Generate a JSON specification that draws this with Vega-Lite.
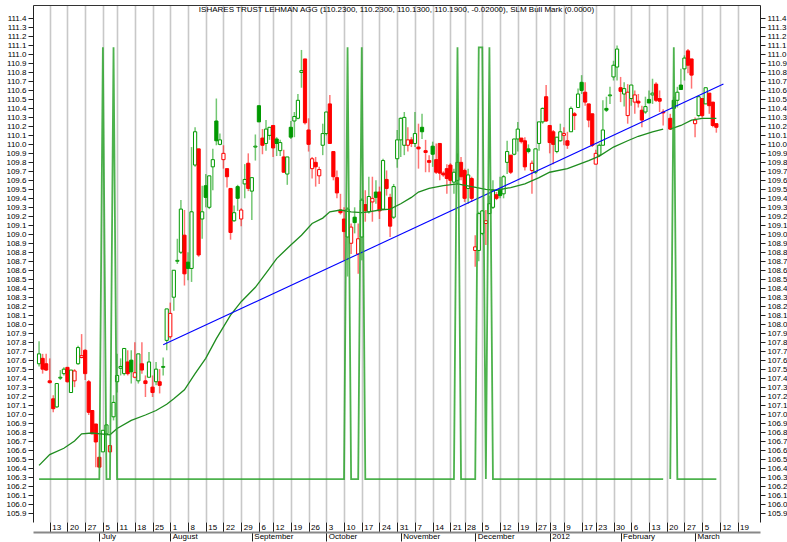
{
"$schema":"https://vega.github.io/schema/vega-lite/v6.json",
"width":727,"height":517,
"autosize":"none",
"padding":{"left":33,"top":5,"right":27,"bottom":20},
"background":"white",
"config":{"view":{"stroke":null},"font":"Liberation Sans","axis":{"labelFont":"Liberation Sans","labelFontSize":8,"labelColor":"#000"}},
"title":{"text":"ISHARES TRUST LEHMAN AGG (110.2300, 110.2300, 110.1300, 110.1900, -0.02000), SLM Bull Mark (0.0000)","font":"Liberation Sans","fontSize":8,"fontWeight":"normal","color":"#000","anchor":"middle","offset":-9},
"datasets":{
"candles":[
{"i":-3,"o":107.56,"h":107.81,"l":107.53,"c":107.67},
{"i":-2,"o":107.62,"h":107.67,"l":107.45,"c":107.50},
{"i":-1,"o":107.56,"h":107.67,"l":107.48,"c":107.49},
{"i":0,"o":107.37,"h":107.62,"l":107.34,"c":107.35},
{"i":1,"o":107.17,"h":107.21,"l":107.02,"c":107.06},
{"i":2,"o":107.08,"h":107.34,"l":107.07,"c":107.34},
{"i":3,"o":107.40,"h":107.49,"l":107.38,"c":107.41},
{"i":4,"o":107.45,"h":107.52,"l":107.43,"c":107.50},
{"i":5,"o":107.52,"h":107.52,"l":107.35,"c":107.36},
{"i":6,"o":107.24,"h":107.49,"l":107.24,"c":107.49},
{"i":7,"o":107.37,"h":107.50,"l":107.30,"c":107.48},
{"i":8,"o":107.56,"h":107.76,"l":107.55,"c":107.74},
{"i":9,"o":107.63,"h":107.89,"l":107.62,"c":107.65},
{"i":10,"o":107.71,"h":107.72,"l":107.38,"c":107.45},
{"i":11,"o":107.36,"h":107.38,"l":106.99,"c":107.02},
{"i":12,"o":107.04,"h":107.04,"l":106.78,"c":106.78},
{"i":13,"o":106.89,"h":106.89,"l":106.41,"c":106.69},
{"i":14,"o":106.52,"h":106.52,"l":106.41,"c":106.41},
{"i":15,"o":106.58,"h":106.82,"l":106.58,"c":106.82},
{"i":16,"o":106.78,"h":106.89,"l":106.76,"c":106.88},
{"i":17,"o":106.58,"h":106.65,"l":106.58,"c":106.65},
{"i":18,"o":106.97,"h":107.21,"l":106.93,"c":107.13},
{"i":19,"o":107.36,"h":107.67,"l":107.24,"c":107.43},
{"i":20,"o":107.51,"h":107.62,"l":107.43,"c":107.53},
{"i":21,"o":107.45,"h":107.73,"l":107.43,"c":107.73},
{"i":22,"o":107.58,"h":107.71,"l":107.43,"c":107.45},
{"i":23,"o":107.60,"h":107.71,"l":107.34,"c":107.47},
{"i":24,"o":107.41,"h":107.80,"l":107.40,"c":107.46},
{"i":25,"o":107.37,"h":107.67,"l":107.34,"c":107.67},
{"i":26,"o":107.56,"h":107.80,"l":107.45,"c":107.49},
{"i":27,"o":107.37,"h":107.43,"l":107.19,"c":107.34},
{"i":28,"o":107.41,"h":107.69,"l":107.41,"c":107.58},
{"i":29,"o":107.30,"h":107.43,"l":107.19,"c":107.24},
{"i":30,"o":107.36,"h":107.58,"l":107.32,"c":107.50},
{"i":31,"o":107.36,"h":107.50,"l":107.23,"c":107.32},
{"i":32,"o":107.52,"h":107.63,"l":107.43,"c":107.53},
{"i":33,"o":107.82,"h":108.17,"l":107.71,"c":108.17},
{"i":34,"o":107.86,"h":108.24,"l":107.84,"c":108.12},
{"i":35,"o":108.30,"h":108.60,"l":108.15,"c":108.60},
{"i":36,"o":108.70,"h":108.95,"l":108.67,"c":108.71},
{"i":37,"o":108.80,"h":109.38,"l":108.78,"c":109.28},
{"i":38,"o":108.99,"h":109.27,"l":108.43,"c":108.56},
{"i":39,"o":108.69,"h":108.80,"l":108.49,"c":108.62},
{"i":40,"o":108.62,"h":109.97,"l":108.47,"c":109.25},
{"i":41,"o":109.77,"h":110.19,"l":109.75,"c":110.14},
{"i":42,"o":109.95,"h":109.95,"l":108.75,"c":108.77},
{"i":43,"o":109.17,"h":109.54,"l":108.95,"c":109.25},
{"i":44,"o":109.54,"h":109.67,"l":109.30,"c":109.41},
{"i":45,"o":109.30,"h":109.65,"l":109.28,"c":109.65},
{"i":46,"o":109.75,"h":109.95,"l":109.49,"c":109.83},
{"i":47,"o":110.26,"h":110.51,"l":109.99,"c":110.04},
{"i":48,"o":110.00,"h":110.12,"l":109.99,"c":110.05},
{"i":49,"o":109.83,"h":109.99,"l":109.73,"c":109.90},
{"i":50,"o":109.73,"h":109.73,"l":109.52,"c":109.64},
{"i":51,"o":109.51,"h":109.51,"l":108.94,"c":109.02},
{"i":52,"o":109.15,"h":109.32,"l":109.14,"c":109.24},
{"i":53,"o":109.53,"h":109.55,"l":109.26,"c":109.40},
{"i":54,"o":109.17,"h":109.29,"l":109.09,"c":109.27},
{"i":55,"o":109.56,"h":109.78,"l":109.40,"c":109.61},
{"i":56,"o":109.79,"h":109.90,"l":109.48,"c":109.51},
{"i":57,"o":109.48,"h":109.63,"l":109.16,"c":109.63},
{"i":58,"o":109.97,"h":110.11,"l":109.82,"c":109.98},
{"i":59,"o":110.43,"h":110.43,"l":110.25,"c":110.25},
{"i":60,"o":110.07,"h":110.17,"l":109.89,"c":109.99},
{"i":61,"o":110.01,"h":110.27,"l":109.93,"c":110.17},
{"i":62,"o":110.10,"h":110.19,"l":110.05,"c":110.19},
{"i":63,"o":110.21,"h":110.21,"l":109.86,"c":109.96},
{"i":64,"o":110.06,"h":110.08,"l":109.87,"c":110.01},
{"i":65,"o":109.93,"h":110.05,"l":109.87,"c":110.02},
{"i":66,"o":109.86,"h":109.94,"l":109.69,"c":109.69},
{"i":67,"o":109.67,"h":109.86,"l":109.55,"c":109.86},
{"i":68,"o":110.19,"h":110.26,"l":110.06,"c":110.08},
{"i":69,"o":110.26,"h":110.36,"l":110.08,"c":110.31},
{"i":70,"o":110.29,"h":110.56,"l":110.28,"c":110.49},
{"i":71,"o":110.80,"h":111.05,"l":110.63,"c":110.82},
{"i":72,"o":110.95,"h":110.95,"l":110.22,"c":110.24},
{"i":73,"o":110.16,"h":110.29,"l":109.92,"c":110.00},
{"i":74,"o":109.73,"h":109.86,"l":109.62,"c":109.84},
{"i":75,"o":109.80,"h":109.86,"l":109.53,"c":109.75},
{"i":76,"o":109.65,"h":109.75,"l":109.56,"c":109.72},
{"i":77,"o":109.99,"h":110.23,"l":109.88,"c":110.12},
{"i":78,"o":110.12,"h":110.36,"l":110.10,"c":110.36},
{"i":79,"o":110.45,"h":110.55,"l":110.01,"c":110.01},
{"i":80,"o":109.92,"h":109.92,"l":109.60,"c":109.64},
{"i":81,"o":109.63,"h":109.71,"l":109.40,"c":109.46},
{"i":82,"o":109.27,"h":109.45,"l":109.22,"c":109.24},
{"i":83,"o":109.17,"h":109.30,"l":108.71,"c":109.03},
{"i":84,"o":108.97,"h":109.30,"l":108.53,"c":109.28},
{"i":85,"o":108.90,"h":109.12,"l":108.78,"c":109.08},
{"i":86,"o":109.19,"h":109.30,"l":109.01,"c":109.13},
{"i":87,"o":108.78,"h":109.12,"l":108.56,"c":108.95},
{"i":88,"o":108.97,"h":109.40,"l":108.71,"c":109.38},
{"i":89,"o":109.33,"h":109.49,"l":109.14,"c":109.26},
{"i":90,"o":109.25,"h":109.64,"l":109.23,"c":109.42},
{"i":91,"o":109.36,"h":109.64,"l":109.14,"c":109.40},
{"i":92,"o":109.47,"h":109.60,"l":109.34,"c":109.41},
{"i":93,"o":109.47,"h":109.53,"l":109.17,"c":109.26},
{"i":94,"o":109.28,"h":109.84,"l":109.27,"c":109.82},
{"i":95,"o":109.61,"h":109.71,"l":109.43,"c":109.51},
{"i":96,"o":109.41,"h":109.45,"l":108.97,"c":109.09},
{"i":97,"o":109.19,"h":109.56,"l":109.17,"c":109.53},
{"i":98,"o":109.84,"h":110.16,"l":109.74,"c":110.05},
{"i":99,"o":110.05,"h":110.30,"l":109.86,"c":110.29},
{"i":100,"o":109.99,"h":110.36,"l":109.88,"c":110.30},
{"i":101,"o":109.99,"h":110.19,"l":109.92,"c":110.05},
{"i":102,"o":110.05,"h":110.08,"l":109.97,"c":110.01},
{"i":103,"o":110.01,"h":110.36,"l":109.97,"c":110.12},
{"i":104,"o":109.97,"h":110.23,"l":109.73,"c":109.95},
{"i":105,"o":110.19,"h":110.34,"l":110.06,"c":110.14},
{"i":106,"o":109.93,"h":110.05,"l":109.69,"c":109.91},
{"i":107,"o":109.82,"h":109.88,"l":109.69,"c":109.80},
{"i":108,"o":109.98,"h":110.03,"l":109.75,"c":109.89},
{"i":109,"o":109.83,"h":110.01,"l":109.67,"c":109.69},
{"i":110,"o":110.01,"h":110.01,"l":109.60,"c":109.68},
{"i":111,"o":109.68,"h":109.70,"l":109.64,"c":109.66},
{"i":112,"o":109.73,"h":109.78,"l":109.45,"c":109.62},
{"i":113,"o":109.77,"h":109.79,"l":109.56,"c":109.60},
{"i":114,"o":109.58,"h":109.73,"l":109.45,"c":109.69},
{"i":115,"o":109.60,"h":109.90,"l":109.56,"c":109.80},
{"i":116,"o":109.80,"h":109.86,"l":109.60,"c":109.64},
{"i":117,"o":109.71,"h":109.73,"l":109.36,"c":109.40},
{"i":118,"o":109.51,"h":109.73,"l":109.34,"c":109.66},
{"i":119,"o":109.62,"h":109.64,"l":109.36,"c":109.40},
{"i":120,"o":108.82,"h":108.99,"l":108.64,"c":108.86},
{"i":121,"o":108.82,"h":109.25,"l":108.70,"c":109.23},
{"i":122,"o":109.01,"h":109.27,"l":108.99,"c":109.26},
{"i":123,"o":109.12,"h":109.27,"l":108.88,"c":109.15},
{"i":124,"o":109.23,"h":109.43,"l":109.23,"c":109.34},
{"i":125,"o":109.30,"h":109.60,"l":109.28,"c":109.49},
{"i":126,"o":109.44,"h":109.47,"l":109.38,"c":109.40},
{"i":127,"o":109.49,"h":109.64,"l":109.40,"c":109.43},
{"i":128,"o":109.45,"h":109.66,"l":109.40,"c":109.64},
{"i":129,"o":109.80,"h":110.04,"l":109.67,"c":109.92},
{"i":130,"o":109.88,"h":109.88,"l":109.67,"c":109.69},
{"i":131,"o":109.89,"h":110.06,"l":109.88,"c":110.06},
{"i":132,"o":110.06,"h":110.25,"l":109.92,"c":110.17},
{"i":133,"o":110.07,"h":110.07,"l":110.01,"c":110.03},
{"i":134,"o":110.04,"h":110.08,"l":109.71,"c":109.75},
{"i":135,"o":109.95,"h":110.00,"l":109.90,"c":109.92},
{"i":136,"o":109.71,"h":109.82,"l":109.45,"c":109.79},
{"i":137,"o":109.69,"h":109.95,"l":109.67,"c":109.95},
{"i":138,"o":110.01,"h":110.25,"l":109.93,"c":110.25},
{"i":139,"o":110.25,"h":110.41,"l":110.23,"c":110.40},
{"i":140,"o":110.53,"h":110.66,"l":110.25,"c":110.26},
{"i":141,"o":110.21,"h":110.21,"l":109.90,"c":110.02},
{"i":142,"o":110.14,"h":110.16,"l":109.78,"c":110.00},
{"i":143,"o":109.92,"h":110.08,"l":109.90,"c":110.08},
{"i":144,"o":110.04,"h":110.23,"l":110.03,"c":110.14},
{"i":145,"o":110.10,"h":110.19,"l":109.99,"c":110.12},
{"i":146,"o":110.04,"h":110.14,"l":109.95,"c":109.99},
{"i":147,"o":110.14,"h":110.42,"l":110.14,"c":110.40},
{"i":148,"o":110.34,"h":110.36,"l":110.16,"c":110.32},
{"i":149,"o":110.41,"h":110.62,"l":110.41,"c":110.56},
{"i":150,"o":110.69,"h":110.77,"l":110.56,"c":110.60},
{"i":151,"o":110.58,"h":110.69,"l":110.43,"c":110.47},
{"i":152,"o":110.45,"h":110.45,"l":110.19,"c":110.27},
{"i":153,"o":110.34,"h":110.34,"l":109.97,"c":109.99},
{"i":154,"o":109.78,"h":109.94,"l":109.78,"c":109.90},
{"i":155,"o":109.88,"h":110.01,"l":109.86,"c":109.99},
{"i":156,"o":109.99,"h":110.49,"l":109.99,"c":110.16},
{"i":157,"o":110.40,"h":110.53,"l":110.36,"c":110.38},
{"i":158,"o":110.54,"h":110.64,"l":110.45,"c":110.55},
{"i":159,"o":110.75,"h":110.93,"l":110.71,"c":110.88},
{"i":160,"o":110.86,"h":111.10,"l":110.71,"c":111.06},
{"i":161,"o":110.63,"h":110.75,"l":110.47,"c":110.59},
{"i":162,"o":110.56,"h":110.69,"l":110.42,"c":110.62},
{"i":163,"o":110.32,"h":110.67,"l":110.23,"c":110.58},
{"i":164,"o":110.51,"h":110.66,"l":110.43,"c":110.66},
{"i":165,"o":110.47,"h":110.60,"l":110.34,"c":110.55},
{"i":166,"o":110.48,"h":110.56,"l":110.41,"c":110.46},
{"i":167,"o":110.38,"h":110.43,"l":110.19,"c":110.27},
{"i":168,"o":110.36,"h":110.53,"l":110.34,"c":110.42},
{"i":169,"o":110.50,"h":110.60,"l":110.46,"c":110.46},
{"i":170,"o":110.55,"h":110.73,"l":110.45,"c":110.57},
{"i":171,"o":110.67,"h":110.69,"l":110.47,"c":110.49},
{"i":172,"o":110.51,"h":110.60,"l":110.36,"c":110.48},
{"i":173,"o":110.36,"h":110.39,"l":110.21,"c":110.35},
{"i":175,"o":110.29,"h":110.34,"l":110.16,"c":110.17},
{"i":176,"o":110.49,"h":110.53,"l":110.23,"c":110.40},
{"i":177,"o":110.49,"h":110.64,"l":110.41,"c":110.58},
{"i":178,"o":110.66,"h":110.84,"l":110.61,"c":110.61},
{"i":179,"o":110.84,"h":110.99,"l":110.71,"c":110.96},
{"i":180,"o":111.04,"h":111.06,"l":110.79,"c":110.88},
{"i":181,"o":110.95,"h":110.95,"l":110.62,"c":110.77},
{"i":182,"o":110.23,"h":110.30,"l":110.08,"c":110.27},
{"i":183,"o":110.32,"h":110.53,"l":110.30,"c":110.53},
{"i":184,"o":110.51,"h":110.51,"l":110.30,"c":110.32},
{"i":185,"o":110.45,"h":110.63,"l":110.45,"c":110.63},
{"i":186,"o":110.57,"h":110.57,"l":110.34,"c":110.43},
{"i":187,"o":110.47,"h":110.47,"l":110.19,"c":110.21},
{"i":188,"o":110.23,"h":110.23,"l":110.13,"c":110.19}
],
"ma":[
{"i":-3,"v":106.43,"seg":1},{"i":0,"v":106.55,"seg":1},{"i":4,"v":106.62,"seg":1},{"i":7,"v":106.70,"seg":1},{"i":9,"v":106.78,"seg":1},{"i":12,"v":106.79,"seg":1},{"i":17,"v":106.77,"seg":1},{"i":19,"v":106.84,"seg":1},{"i":23,"v":106.93,"seg":1},{"i":27,"v":106.99,"seg":1},{"i":30,"v":107.04,"seg":1},{"i":33,"v":107.11,"seg":1},{"i":35,"v":107.17,"seg":1},{"i":38,"v":107.27,"seg":1},{"i":41,"v":107.45,"seg":1},{"i":44,"v":107.62,"seg":1},{"i":47,"v":107.84,"seg":1},{"i":51,"v":108.10,"seg":1},{"i":54,"v":108.25,"seg":1},{"i":58,"v":108.41,"seg":1},{"i":62,"v":108.62,"seg":1},{"i":64,"v":108.73,"seg":1},{"i":68,"v":108.88,"seg":1},{"i":71,"v":108.99,"seg":1},{"i":74,"v":109.12,"seg":1},{"i":77,"v":109.18,"seg":1},{"i":79,"v":109.25,"seg":1},{"i":82,"v":109.27,"seg":1},{"i":85,"v":109.25,"seg":1},{"i":88,"v":109.24,"seg":1},{"i":90,"v":109.25,"seg":1},{"i":93,"v":109.27,"seg":1},{"i":96,"v":109.28,"seg":1},{"i":99,"v":109.34,"seg":1},{"i":102,"v":109.41,"seg":1},{"i":104,"v":109.47,"seg":1},{"i":107,"v":109.51,"seg":1},{"i":111,"v":109.54,"seg":1},{"i":115,"v":109.56,"seg":1},{"i":119,"v":109.53,"seg":1},{"i":123,"v":109.50,"seg":1},{"i":126,"v":109.49,"seg":1},{"i":130,"v":109.52,"seg":1},{"i":134,"v":109.56,"seg":1},{"i":138,"v":109.63,"seg":1},{"i":141,"v":109.69,"seg":1},{"i":146,"v":109.73,"seg":1},{"i":152,"v":109.82,"seg":1},{"i":155,"v":109.87,"seg":1},{"i":159,"v":109.97,"seg":1},{"i":163,"v":110.04,"seg":1},{"i":166,"v":110.09,"seg":1},{"i":170,"v":110.14,"seg":1},{"i":173,"v":110.17,"seg":1},
{"i":175,"v":110.17,"seg":2},{"i":178,"v":110.21,"seg":2},{"i":181,"v":110.27,"seg":2},{"i":184,"v":110.29,"seg":2},{"i":188,"v":110.29,"seg":2}
],
"trend":[{"i":32,"v":107.77},{"i":190,"v":110.67}],
"slm":[
{"i":-3,"s":0,"seg":1},{"i":14,"s":0,"seg":1},{"i":15,"s":1,"seg":1},{"i":16,"s":0,"seg":1},{"i":17,"s":0,"seg":1},{"i":18,"s":1,"seg":1},{"i":19,"s":0,"seg":1},{"i":83,"s":0,"seg":1},{"i":84,"s":1,"seg":1},{"i":85,"s":0,"seg":1},{"i":87,"s":0,"seg":1},{"i":88,"s":1,"seg":1},{"i":89,"s":0,"seg":1},{"i":114,"s":0,"seg":1},{"i":115,"s":1,"seg":1},{"i":116,"s":0,"seg":1},{"i":120,"s":0,"seg":1},{"i":121,"s":1,"seg":1},{"i":122,"s":1,"seg":1},{"i":123,"s":0,"seg":1},{"i":124,"s":1,"seg":1},{"i":125,"s":0,"seg":1},{"i":173,"s":0,"seg":1},
{"i":175,"s":0,"seg":2},{"i":176,"s":1,"seg":2},{"i":177,"s":0,"seg":2},{"i":188,"s":0,"seg":2}
],
"months":[{"i":14,"m":"July"},{"i":34,"m":"August"},{"i":57,"m":"September"},{"i":78,"m":"October"},{"i":99,"m":"November"},{"i":120,"m":"December"},{"i":141,"m":"2012"},{"i":161,"m":"February"},{"i":182,"m":"March"}]
},
"layer":[
{
"data":{"name":"candles"},
"transform":[{"window":[{"op":"lag","field":"c","as":"pc"}],"sort":[{"field":"i"}]}],
"mark":{"type":"rule","strokeWidth":1.5,"opacity":0.55},
"encoding":{
"x":{"field":"i","type":"quantitative","scale":{"domain":[-3.3,198.9],"nice":false,"zero":false},
"axis":{"orient":"bottom","title":null,"values":[0,5,10,15,19,24,29,34,39,44,49,54,59,63,68,73,78,83,88,93,98,103,108,113,117,122,127,132,137,141,145,150,154,159,164,169,174,179,184,189,194],
"labelExpr":"['13','20','27','5','11','18','25','1','8','15','22','29','6','12','19','26','3','10','17','24','31','7','14','21','28','5','12','19','27','3','9','17','23','30','6','13','20','27','5','12','19'][indexof([0,5,10,15,19,24,29,34,39,44,49,54,59,63,68,73,78,83,88,93,98,103,108,113,117,122,127,132,137,141,145,150,154,159,164,169,174,179,184,189,194], datum.value)]",
"domain":false,"tickSize":10,"tickColor":"#222","tickWidth":1,"labelAlign":"left","labelBaseline":"middle","labelPadding":-5,"labelOffset":2,"labelOverlap":false,"labelBound":false,"labelFlush":false,
"grid":true,"gridColor":"#c8c8c8","gridWidth":1.6}},
"y":{"field":"l","type":"quantitative","scale":{"domain":[105.8,111.55],"nice":false,"zero":false},
"axis":{"orient":"left","title":null,"values":[105.9,106,106.1,106.2,106.3,106.4,106.5,106.6,106.7,106.8,106.9,107,107.1,107.2,107.3,107.4,107.5,107.6,107.7,107.8,107.9,108,108.1,108.2,108.3,108.4,108.5,108.6,108.7,108.8,108.9,109,109.1,109.2,109.3,109.4,109.5,109.6,109.7,109.8,109.9,110,110.1,110.2,110.3,110.4,110.5,110.6,110.7,110.8,110.9,111,111.1,111.2,111.3,111.4],
"format":".1f","tickSize":5,"labelPadding":2,"domainColor":"#222","tickColor":"#222","grid":false,"labelOverlap":false,"labelFlush":false}},
"y2":{"field":"h"},
"color":{"condition":{"test":"datum.c >= datum.pc","value":"#009900"},"value":"#ff0000"}
}
},
{
"data":{"name":"candles"},
"transform":[{"window":[{"op":"lag","field":"c","as":"pc"}],"sort":[{"field":"i"}]}],
"mark":{"type":"bar","width":3.2,"strokeWidth":1},
"encoding":{
"x":{"field":"i","type":"quantitative","scale":{"domain":[-3.3,198.9],"nice":false,"zero":false},"axis":null},
"y":{"field":"o","type":"quantitative","scale":{"domain":[105.8,111.55],"nice":false,"zero":false},"axis":null},
"y2":{"field":"c"},
"stroke":{"condition":{"test":"datum.c >= datum.pc","value":"#009900"},"value":"#ff0000"},
"fill":{"condition":[{"test":"datum.c < datum.o && datum.c >= datum.pc","value":"#009900"},{"test":"datum.c < datum.o","value":"#ff0000"}],"value":"#ffffff"}
}
},
{
"data":{"name":"ma"},
"mark":{"type":"line","color":"#1e8c1e","strokeWidth":1.3},
"encoding":{
"x":{"field":"i","type":"quantitative","scale":{"domain":[-3.3,198.9],"nice":false,"zero":false},"axis":null},
"y":{"field":"v","type":"quantitative","scale":{"domain":[105.8,111.55],"nice":false,"zero":false},"axis":null},
"detail":{"field":"seg"}
}
},
{
"data":{"name":"trend"},
"mark":{"type":"line","color":"#0000ff","strokeWidth":1.1},
"encoding":{
"x":{"field":"i","type":"quantitative","scale":{"domain":[-3.3,198.9],"nice":false,"zero":false},"axis":null},
"y":{"field":"v","type":"quantitative","scale":{"domain":[105.8,111.55],"nice":false,"zero":false},"axis":null}
}
},
{
"data":{"name":"slm"},
"mark":{"type":"line","color":"#2ea52e","strokeWidth":1.8,"opacity":0.85},
"encoding":{
"x":{"field":"i","type":"quantitative","scale":{"domain":[-3.3,198.9],"nice":false,"zero":false},
"axis":{"orient":"top","title":null,"ticks":false,"labels":false,"grid":false,"domain":true,"domainColor":"#333"}},
"y":{"field":"s","type":"quantitative","scale":{"domain":[-0.0994,1.098],"nice":false,"zero":false},"axis":null},
"detail":{"field":"seg"}
}
},
{
"data":{"name":"months"},
"mark":{"type":"point","opacity":0},
"encoding":{
"x":{"field":"i","type":"quantitative","scale":{"domain":[-3.3,198.9],"nice":false,"zero":false},
"axis":{"orient":"bottom","offset":10,"title":null,"values":[14,34,57,78,99,120,141,161,182],
"labelExpr":"['July','August','September','October','November','December','2012','February','March'][indexof([14,34,57,78,99,120,141,161,182], datum.value)]",
"domain":true,"domainColor":"#888","domainWidth":2,"tickSize":9,"tickColor":"#222","tickWidth":1,"labelAlign":"left","labelBaseline":"middle","labelPadding":-4.5,"labelOffset":2,"labelOverlap":false,"labelBound":false,"labelFlush":false,"grid":false}},
"y":{"datum":108,"type":"quantitative","scale":{"domain":[105.8,111.55],"nice":false,"zero":false},
"axis":{"orient":"right","title":null,"values":[105.9,106,106.1,106.2,106.3,106.4,106.5,106.6,106.7,106.8,106.9,107,107.1,107.2,107.3,107.4,107.5,107.6,107.7,107.8,107.9,108,108.1,108.2,108.3,108.4,108.5,108.6,108.7,108.8,108.9,109,109.1,109.2,109.3,109.4,109.5,109.6,109.7,109.8,109.9,110,110.1,110.2,110.3,110.4,110.5,110.6,110.7,110.8,110.9,111,111.1,111.2,111.3,111.4],
"format":".1f","tickSize":5,"labelPadding":2,"domainColor":"#222","tickColor":"#222","grid":false,"labelOverlap":false,"labelFlush":false}}
}
}
],
"resolve":{"scale":{"y":"independent"},"axis":{"x":"independent","y":"independent"}}
}
